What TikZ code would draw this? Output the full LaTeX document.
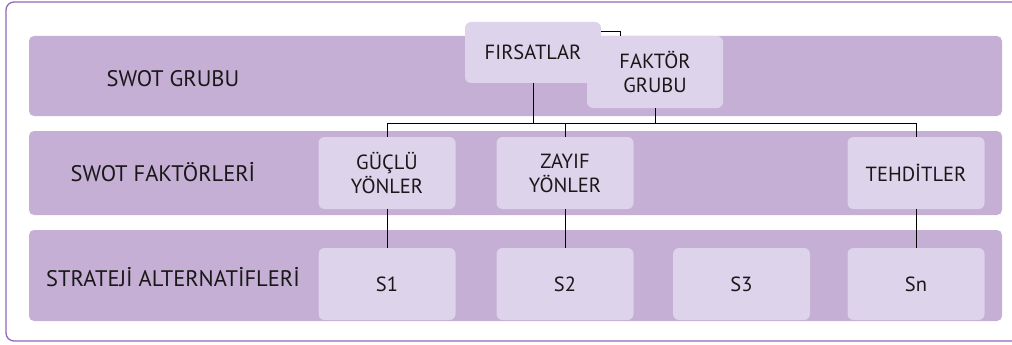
\documentclass[tikz,border=0pt]{standalone}
\usepackage{fontspec}
\setmainfont{PT Sans}
\definecolor{bandc}{HTML}{C5AFD5}
\definecolor{boxc}{HTML}{DDD3EA}
\definecolor{framec}{HTML}{9466B8}
\definecolor{txtc}{HTML}{1A1718}
\begin{document}
\begin{tikzpicture}[x=1pt,y=-1pt,
  band/.style={fill=bandc,draw=none,rounded corners=5pt,inner sep=0pt},
  boxn/.style={fill=boxc,draw=none,rounded corners=6pt,minimum width=137pt,minimum height=72pt,inner sep=0pt,align=center,font=\fontsize{20.5}{24}\selectfont,text=txtc},
  lab/.style={font=\fontsize{22.5}{25}\selectfont,text=txtc,inner sep=0pt},
  conn/.style={draw=black,line width=1pt}]
\useasboundingbox (0,0) rectangle (1012,345);
\clip (0,0) rectangle (1012,345);
\draw[framec,line width=1.3pt,rounded corners=8pt] (6,2) rectangle (1030,341);
% bands
\node[band,minimum width=973pt,minimum height=80pt] (b1) at (515.5,76) {};
\node[band,minimum width=973pt,minimum height=84pt] (b2) at (515.5,173) {};
\node[band,minimum width=973pt,minimum height=91pt] (b3) at (515.5,275.5) {};
% labels
\node[lab] (l1) at (173,79) {SWOT GRUBU};
\node[lab] (l2) at (163,172) {SWOT FAKTÖRLERİ};
\node[lab] (l3) at (173,277) {STRATEJİ ALTERNATİFLERİ};
% top boxes
\node[boxn,minimum width=136pt] (fak) at (655,72) {FAKTÖR\\GRUBU};
\node[boxn,minimum width=136pt,minimum height=61pt] (fir) at (533,52.5) {FIRSATLAR};
% factor boxes
\node[boxn] (gu) at (387,173) {GÜÇLÜ\\YÖNLER};
\node[boxn] (za) at (565,173) {ZAYIF\\YÖNLER};
\node[boxn] (te) at (916,173) {TEHDİTLER};
% strategy boxes
\node[boxn] (s1) at (387,284) {S1};
\node[boxn] (s2) at (565,284) {S2};
\node[boxn] (s3) at (741.5,284) {S3};
\node[boxn] (sn) at (916,284) {Sn};
% connectors
\coordinate (bus) at (0,123);
\draw[conn] ([yshift=-10pt]fir.north east) -| ([xshift=34pt]fak.north west);
\draw[conn] (fir.south) -- (fir.south |- bus);
\draw[conn] (fak.south) -- (fak.south |- bus);
\draw[conn] (gu.north |- bus) -- (te.north |- bus);
\draw[conn] (gu.north |- bus) -- (gu.north);
\draw[conn] (za.north |- bus) -- (za.north);
\draw[conn] (te.north |- bus) -- (te.north);
\draw[conn] (gu.south) -- (s1.north);
\draw[conn] (za.south) -- (s2.north);
\draw[conn] (te.south) -- (sn.north);
\end{tikzpicture}
\end{document}
